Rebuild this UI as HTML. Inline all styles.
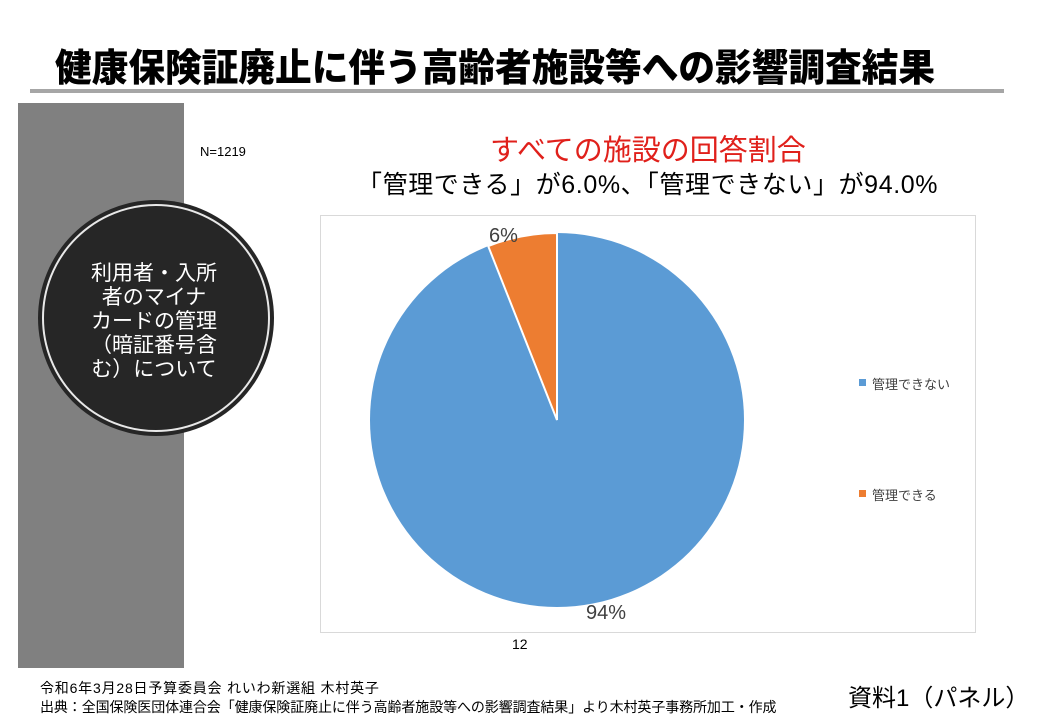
<!DOCTYPE html>
<html><head><meta charset="utf-8"><style>
body{margin:0;width:1040px;height:720px;background:#fff;overflow:hidden;position:relative;font-family:"Liberation Sans","Noto Sans CJK JP",sans-serif;}
.a{position:absolute;white-space:nowrap;}
</style></head><body>
<div class="a" style="left:55px;top:37px;font-size:38px;font-weight:900;color:#000;letter-spacing:0px;transform:scaleX(0.965);transform-origin:left;">健康保険証廃止に伴う高齢者施設等への影響調査結果</div>
<div class="a" style="left:30px;top:89px;width:974px;height:4px;background:#a6a6a6;"></div>
<div class="a" style="left:18px;top:103px;width:166px;height:565px;background:#808080;"></div>
<svg class="a" style="left:0;top:0" width="1040" height="720">
<circle cx="156" cy="318" r="118" fill="#262626"/>
<circle cx="156" cy="318" r="113" fill="none" stroke="#e8e8e8" stroke-width="2"/>
<rect x="320.5" y="215.5" width="655" height="417" fill="#fff" stroke="#d9d9d9"/>
<circle cx="557" cy="420" r="187" fill="#5b9bd5"/>
<path d="M557,420 L557,233 A187,187 0 0,0 488.2,246.1 Z" fill="#ed7d31" stroke="#fff" stroke-width="2"/>
<rect x="859" y="379" width="7" height="7" fill="#5b9bd5"/>
<rect x="859" y="490" width="7" height="7" fill="#ed7d31"/>
</svg>
<div class="a" style="left:82px;top:262px;width:144px;text-align:center;color:#fff;font-size:21px;line-height:24px;white-space:normal;">利用者・入所<br>者のマイナ<br>カードの管理<br>（暗証番号含<br>む）について</div>
<div class="a" style="left:200px;top:144px;font-size:13px;">N=1219</div>
<div class="a" style="left:490px;top:127px;font-size:29px;color:#e0201b;">すべての施設の回答割合</div>
<div class="a" style="left:357px;top:165px;font-size:25px;color:#000;letter-spacing:0.6px;">「管理できる」が6.0%、「管理できない」が94.0%</div>
<div class="a" style="left:489px;top:225px;font-size:20px;color:#404040;">6%</div>
<div class="a" style="left:586px;top:602px;font-size:20px;color:#404040;">94%</div>
<div class="a" style="left:872px;top:374px;font-size:13px;color:#404040;">管理できない</div>
<div class="a" style="left:872px;top:485px;font-size:13px;color:#404040;">管理できる</div>
<div class="a" style="left:512px;top:636px;font-size:14px;">12</div>
<div class="a" style="left:40px;top:678px;font-size:14px;letter-spacing:0.8px;">令和6年3月28日予算委員会 れいわ新選組 木村英子</div>
<div class="a" style="left:40px;top:697px;font-size:14px;letter-spacing:-0.1px;">出典：全国保険医団体連合会「健康保険証廃止に伴う高齢者施設等への影響調査結果」より木村英子事務所加工・作成</div>
<div class="a" style="left:848px;top:678px;font-size:24px;">資料1（パネル）</div>
</body></html>
